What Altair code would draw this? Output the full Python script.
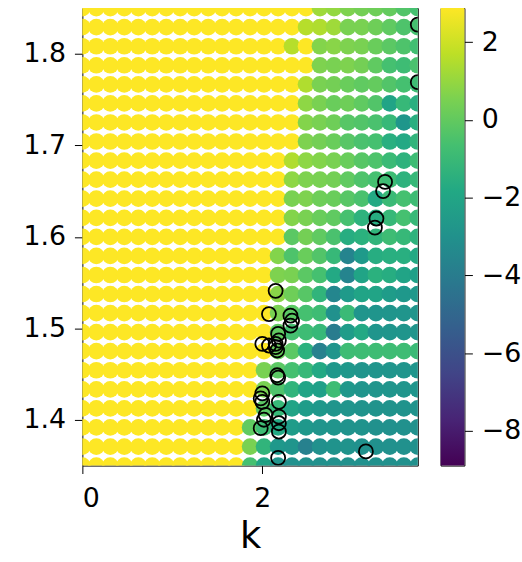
import altair as alt
import pandas as pd

# grid positions (columns: k, rows: second parameter)
x_centers = [0.0, 0.155, 0.311, 0.466, 0.622, 0.777, 0.933, 1.088, 1.243, 1.399,
             1.554, 1.710, 1.865, 2.020, 2.176, 2.331, 2.487, 2.642, 2.798, 2.953,
             3.108, 3.264, 3.419, 3.575, 3.730]
y_centers_top_down = [1.85, 1.8292, 1.8083, 1.7875, 1.7667, 1.7458, 1.725, 1.7042,
                      1.6833, 1.6625, 1.6417, 1.6208, 1.6, 1.5792, 1.5583, 1.5375,
                      1.5167, 1.4958, 1.475, 1.4542, 1.4333, 1.4125, 1.3917, 1.3708, 1.35]

YELLOW = 2.9  # saturated (top of colour scale)

# per row (top to bottom): first non-saturated column, then values to the right edge
row_start = [17, 16, 15, 17, 16, 16, 16, 16, 15, 15, 15, 15, 15,
             14, 14, 14, 14, 14, 14, 13, 13, 13, 12, 12, 12]
row_vals = [
    [1.2, 1.0, 0.6, 0.4, 0.3, 0.1, -0.3, -0.6],
    [1.6, 1.5, 1.2, 0.5, 0.5, 0.3, 0.0, -0.4, -0.6],
    [1.6, 2.9, 0.7, 0.8, 0.6, 0.5, 0.2, -0.1, -0.4, -0.7],
    [0.6, 0.5, 0.6, 0.4, 0.0, -0.6, -0.8, -0.5],
    [1.5, 0.5, 0.4, 0.2, 0.0, 0.1, -0.3, -0.6, -0.8],
    [0.9, 0.5, 0.2, 0.3, 0.0, -0.3, -2.0, -1.0, -1.5],
    [0.7, 0.5, 0.3, -0.2, -0.3, -0.5, -1.0, -2.7, -1.5],
    [0.6, 0.4, 0.2, -0.2, -0.5, -0.6, -1.5, -1.8, -1.2],
    [1.5, 0.9, 0.7, 0.5, 0.2, -0.2, -0.4, -0.9, -1.3, -0.8],
    [0.9, 0.6, 0.5, 0.4, 0.0, -0.4, -0.6, -0.8, -1.3, -1.0],
    [0.5, 0.6, 0.3, 0.2, -0.2, -0.5, -1.8, -0.9, -0.6, -0.8],
    [0.7, 0.5, 0.2, 0.0, -0.6, -1.3, -1.6, -1.0, -0.6, -1.0],
    [-0.1, 0.4, 0.0, -0.5, -1.6, -1.4, -1.2, -0.8, -1.0, -1.3],
    [0.7, -0.4, 0.2, -0.3, -1.0, -3.6, -2.5, -1.6, -1.5, -1.5, -1.8],
    [0.6, 0.5, -0.1, -0.6, -1.8, -3.6, -2.0, -1.4, -1.6, -2.0, -2.2],
    [0.8, 0.3, -0.2, -1.2, -3.5, -2.5, -2.0, -2.0, -2.4, -2.6, -2.6],
    [0.5, -0.1, -0.6, -0.8, -3.0, -0.9, -2.8, -2.8, -2.8, -2.8, -2.8],
    [0.0, -0.6, -0.8, -1.0, -4.0, -2.4, -1.8, -2.8, -2.8, -2.8, -2.8],
    [0.2, -0.1, -1.4, -3.8, -2.8, -0.8, -0.8, -0.8, -0.8, -0.8, -0.9],
    [0.5, -0.1, -0.6, -1.0, -1.8, -2.6, -2.6, -2.8, -2.8, -2.8, -2.8, -2.8],
    [0.5, -0.4, -1.2, -2.0, -2.2, -0.8, -2.6, -2.8, -2.8, -2.8, -2.8, -2.8],
    [-0.1, -1.0, -2.0, -2.4, -2.6, -2.8, -2.8, -2.9, -2.9, -2.9, -2.9, -2.9],
    [0.0, -0.8, -1.8, -2.4, -2.6, -2.8, -2.8, -2.9, -2.9, -3.0, -3.0, -3.0, -3.0],
    [0.5, -1.2, -2.6, -2.8, -3.8, -3.0, -2.9, -2.9, -3.0, -3.0, -3.0, -3.0, -3.0],
    [-0.6, -2.0, -2.8, -3.0, -3.0, -3.0, -3.0, -3.0, -3.0, -3.0, -3.0, -3.0, -3.0],
]

# open black circles
circle_x = [3.73, 3.73, 3.366, 3.344, 3.27, 3.253, 2.149, 2.075, 2.314, 2.332,
            2.314, 2.177, 2.185, 2.149, 2.149, 2.166, 2.001, 2.075, 2.166, 2.177,
            2.001, 1.983, 2.001, 2.185, 2.038, 2.185, 2.185, 2.185, 2.019, 1.983,
            2.177, 3.153]
circle_y = [1.832, 1.769, 1.660, 1.650, 1.620, 1.610, 1.541, 1.5156, 1.5138, 1.5083,
            1.5029, 1.4939, 1.4867, 1.4831, 1.4794, 1.4758, 1.4831, 1.4812, 1.4487, 1.4462,
            1.4289, 1.4234, 1.4197, 1.4197, 1.4053, 1.4035, 1.3963, 1.3872, 1.4001, 1.3909,
            1.3584, 1.3655]

CMIN, CMAX = -8.89, 2.88
viridis = ["#440154", "#482475", "#414487", "#355f8d", "#2a788e", "#21918c",
           "#22a884", "#44bf70", "#7ad151", "#bddf26", "#fde725"]

rows = []
for j, y in enumerate(y_centers_top_down):
    for k, x in enumerate(x_centers):
        s = row_start[j]
        v = YELLOW if k < s else row_vals[j][k - s]
        rows.append({"x": x, "y": y, "v": v})
grid_df = pd.DataFrame(rows)
circ_df = pd.DataFrame({"x": circle_x, "y": circle_y})

FONT = "DejaVu Sans"
x_scale = alt.Scale(domain=[0, 3.73], nice=False, zero=False)
y_scale = alt.Scale(domain=[1.35, 1.85], nice=False, zero=False)

x_enc = alt.X("x:Q", scale=x_scale,
              axis=alt.Axis(values=[0, 2], title="k", format="d", titleFontSize=37,
                            titleFontWeight="normal", titlePadding=8, labelPadding=12))
y_enc = alt.Y("y:Q", scale=y_scale,
              axis=alt.Axis(values=[1.4, 1.5, 1.6, 1.7, 1.8], format=".1f", title=None,
                            minExtent=82, maxExtent=82))

grid = alt.Chart(grid_df).mark_circle(size=282, opacity=1, clip=True).encode(
    x=x_enc, y=y_enc,
    color=alt.Color("v:Q", scale=alt.Scale(scheme="viridis", domain=[CMIN, CMAX], clamp=True),
                    legend=None),
)
circles = alt.Chart(circ_df).mark_point(shape="circle", filled=False, color="black",
                                         size=200, strokeWidth=1.8, opacity=1, clip=True).encode(
    x="x:Q", y="y:Q")

main = alt.layer(grid, circles).properties(width=338, height=461)

cbar = alt.Chart(pd.DataFrame({"lo": [CMIN], "hi": [CMAX]})).mark_rect(
    color=alt.Gradient(gradient="linear",
                       stops=[alt.GradientStop(offset=i / 10, color=c) for i, c in enumerate(viridis)],
                       x1=0, x2=0, y1=1, y2=0)
).encode(
    x=alt.value(0), x2=alt.value(24),
    y=alt.Y("lo:Q", scale=alt.Scale(domain=[CMIN, CMAX], nice=False, zero=False),
            axis=alt.Axis(orient="right", values=[-8, -6, -4, -2, 0, 2], format="d", title=None)),
    y2="hi:Q",
).properties(width=24, height=461)

chart = alt.hconcat(main, cbar, spacing=21).configure_view(
    stroke="black", strokeWidth=1
).configure_axis(
    domain=False, grid=False, tickColor="black", tickSize=8, tickWidth=1,
    labelFontSize=27, labelColor="black", labelFont=FONT, titleFont=FONT,
    titleColor="black", labelPadding=9
).properties(padding={"left": 0, "top": 5, "right": 0, "bottom": 2})

chart.save("out.html", embed_options={"renderer": "svg", "actions": False})
